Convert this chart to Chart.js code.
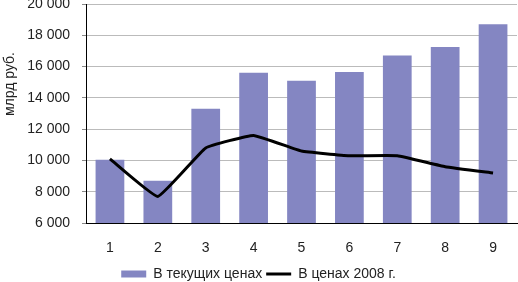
<!DOCTYPE html>
<html lang="ru">
<head>
    <meta charset="UTF-8">
    <title>Chart</title>
    <script src="https://cdn.jsdelivr.net/npm/chart.js"></script>
    <style>
        body { margin: 0; background: #fff; }
        #wrap { width: 518px; height: 282px; }
    </style>
</head>
<body>
<div id="wrap"><canvas id="chart" width="518" height="282"></canvas></div>

<script>
    // data
    var categories = ['1', '2', '3', '4', '5', '6', '7', '8', '9'];
    var currentPrices = [10050, 8700, 13300, 15600, 15100, 15650, 16700, 17250, 18700];
    var prices2008 = [10100, 7700, 10800, 11600, 10600, 10300, 10300, 9600, 9200];
    var seriesNames = ['В текущих ценах', 'В ценах 2008 г.'];
    var yTitle = 'млрд руб.';
    var yMin = 6000, yMax = 20000, yStep = 2000;

    var fontFamily = "'Liberation Sans', Arial, sans-serif";

    function fmt(v) {
        return String(v).replace(/\B(?=(\d{3})+(?!\d))/g, ' ');
    }

    // rotated axis title, sits a bit above the middle like in the original
    var yTitlePlugin = {
        id: 'yTitle',
        afterDraw: function (chart) {
            var ctx = chart.ctx;
            ctx.save();
            ctx.translate(10, 84);
            ctx.rotate(-Math.PI / 2);
            ctx.font = '14px ' + fontFamily;
            ctx.fillStyle = '#222';
            ctx.textAlign = 'center';
            ctx.textBaseline = 'middle';
            ctx.fillText(yTitle, 0, 0);
            ctx.restore();
        }
    };

    var ctx = document.getElementById('chart').getContext('2d');
    new Chart(ctx, {
        data: {
            labels: categories,
            datasets: [{
                type: 'bar',
                label: seriesNames[0],
                data: currentPrices,
                backgroundColor: '#8486C2',
                borderWidth: 0,
                barPercentage: 0.6,
                categoryPercentage: 1,
                pointStyle: 'rect',
                order: 1
            }, {
                type: 'line',
                label: seriesNames[1],
                data: prices2008,
                borderColor: '#000',
                backgroundColor: '#000',
                borderWidth: 3,
                pointRadius: 0,
                pointStyle: 'line',
                tension: 0.1,
                order: 0
            }]
        },
        options: {
            responsive: false,
            animation: false,
            layout: {
                autoPadding: false,
                padding: { top: 4, right: 1, left: 0, bottom: -9 }
            },
            plugins: {
                legend: {
                    position: 'bottom',
                    labels: {
                        usePointStyle: true,
                        pointStyleWidth: 25,
                        boxWidth: 25,
                        boxHeight: 7,
                        padding: 4,
                        color: '#222',
                        font: { family: fontFamily, size: 14 },
                        sort: function (a, b) { return a.datasetIndex - b.datasetIndex; }
                    }
                },
                tooltip: { enabled: false }
            },
            scales: {
                x: {
                    grid: { display: false, drawTicks: false },
                    border: { color: '#000', width: 1 },
                    ticks: {
                        color: '#222',
                        padding: 17,
                        font: { family: fontFamily, size: 14 }
                    },
                    afterFit: function (scale) { scale.height = 40; }
                },
                y: {
                    min: yMin,
                    max: yMax,
                    grid: {
                        color: '#BBBBBB',
                        lineWidth: 1,
                        tickLength: 4,
                        tickColor: '#888'
                    },
                    border: { color: '#000', width: 1 },
                    ticks: {
                        stepSize: yStep,
                        color: '#222',
                        padding: 12,
                        font: { family: fontFamily, size: 14 },
                        callback: function (v) { return fmt(v); }
                    },
                    afterFit: function (scale) {
                        scale.width = 86;
                        // top label may be clipped, as in the original
                        scale.paddingTop = 0;
                        scale.paddingBottom = 0;
                    }
                }
            }
        },
        plugins: [yTitlePlugin]
    });
</script>
</body>
</html>
